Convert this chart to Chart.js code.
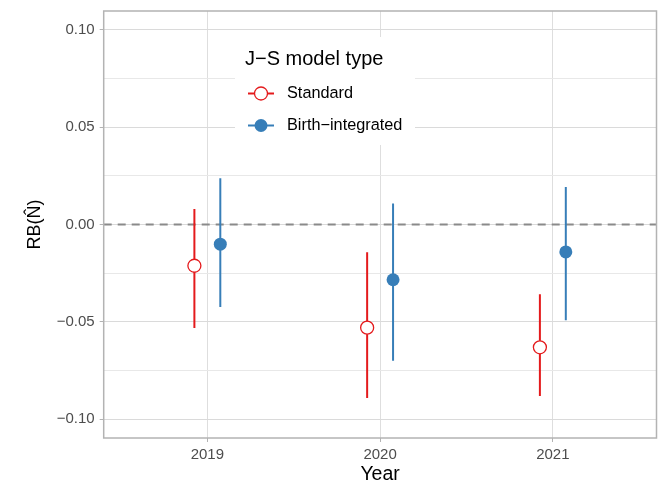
<!DOCTYPE html>
<html>
<head>
<meta charset="utf-8">
<script src="https://cdn.jsdelivr.net/npm/chart.js@4/dist/chart.umd.min.js"></script>
<style>
  html, body { margin: 0; padding: 0; background: #fff; }
  #wrap { width: 660px; height: 486px; }
</style>
</head>
<body>
<div id="wrap"><canvas id="graph1" width="660" height="486"></canvas></div>
<script>
// data
const years = [2019, 2020, 2021];
const stdEst = [-0.0212, -0.0530, -0.0631];
const stdLo = [-0.0532, -0.0891, -0.0881];
const stdHi = [0.0079, -0.0143, -0.0358];
const birthEst = [-0.0101, -0.0284, -0.0141];
const birthLo = [-0.0424, -0.0700, -0.0492];
const birthHi = [0.0237, 0.0108, 0.0193];
const seriesNames = ['Standard', 'Birth\u2212integrated'];
const legendTitle = 'J\u2212S model type';
const yTicks = [-0.1, -0.075, -0.05, -0.025, 0, 0.025, 0.05, 0.075, 0.1];
const xTicks = [2019, 2020, 2021];

const dodge = 0.075;
const xMin = 2018.4, xMax = 2021.6;
const yMin = -0.1097, yMax = 0.1097;
const red = '#E41A1C', blue = '#377EB8';
const FONT = '"Liberation Sans", Arial, sans-serif';

// build dataset points
function pts(est, off) {
  return years.map((y, i) => ({ x: y + off, y: est[i] }));
}
function bars(lo, hi, off) {
  const out = [];
  years.forEach((y, i) => {
    out.push({ x: y + off, y: lo[i] });
    out.push({ x: y + off, y: hi[i] });
    out.push({ x: y + off, y: null });
  });
  return out;
}
const isMajor = v => Math.abs(Math.round(v / 0.05) * 0.05 - v) < 1e-9;
const noPad = s => { s.paddingTop = 0; s.paddingBottom = 0; s.paddingLeft = 0; s.paddingRight = 0; };

// legend + panel border
const extras = {
  id: 'extras',
  afterDraw(chart) {
    const c = chart.ctx, a = chart.chartArea;
    c.save();
    c.strokeStyle = '#b3b3b3';
    c.lineWidth = 1.5;
    c.strokeRect(a.left, a.top, a.right - a.left, a.bottom - a.top);

    // legend box
    c.fillStyle = '#fff';
    c.fillRect(235, 37, 180, 108);
    c.fillStyle = '#000';
    c.font = '20px ' + FONT;
    c.textBaseline = 'middle';
    c.fillText(legendTitle, 245, 59);
    c.font = '16.3px ' + FONT;
    const ys = [93.5, 125.5];
    const cols = [red, blue];
    ys.forEach((yy, i) => {
      c.strokeStyle = cols[i];
      c.lineWidth = 2;
      c.beginPath(); c.moveTo(248, yy); c.lineTo(274, yy); c.stroke();
      c.beginPath(); c.arc(261, yy, 6.5, 0, Math.PI * 2);
      if (i === 0) {
        c.fillStyle = '#fff'; c.fill();
        c.lineWidth = 1.3; c.stroke();
      } else {
        c.fillStyle = blue; c.fill();
      }
      c.fillStyle = '#000';
      c.fillText(seriesNames[i], 287, yy);
    });
    c.restore();
  }
};

const ctx = document.getElementById('graph1');
new Chart(ctx, {
  type: 'scatter',
  data: {
    datasets: [
      {
        type: 'line', label: 'zero',
        data: [{ x: xMin, y: 0 }, { x: xMax, y: 0 }],
        borderColor: '#8a8a8a', borderWidth: 2, borderDash: [8, 6],
        pointRadius: 0, order: 5
      },
      {
        type: 'line', label: seriesNames[0] + ' CI',
        data: bars(stdLo, stdHi, -dodge),
        borderColor: red, borderWidth: 2, pointRadius: 0, spanGaps: false, order: 4
      },
      {
        type: 'line', label: seriesNames[1] + ' CI',
        data: bars(birthLo, birthHi, dodge),
        borderColor: blue, borderWidth: 2, pointRadius: 0, spanGaps: false, order: 3
      },
      {
        label: seriesNames[0],
        data: pts(stdEst, -dodge),
        pointRadius: 6.5, backgroundColor: '#fff', borderColor: red, borderWidth: 1.3, order: 2
      },
      {
        label: seriesNames[1],
        data: pts(birthEst, dodge),
        pointRadius: 6.5, backgroundColor: blue, borderColor: blue, borderWidth: 0, order: 1
      }
    ]
  },
  options: {
    responsive: false,
    animation: false,
    devicePixelRatio: 1,
    layout: { autoPadding: false, padding: { top: 11, right: 3.5, left: 0, bottom: 0 } },
    plugins: { legend: { display: false }, tooltip: { enabled: false } },
    scales: {
      x: {
        type: 'linear', min: xMin, max: xMax,
        afterBuildTicks: s => { s.ticks = xTicks.map(v => ({ value: v })); },
        afterFit: s => { s.height = 48; noPad(s); },
        grid: { color: '#dedede', lineWidth: 1, tickLength: 4, tickColor: '#b3b3b3' },
        border: { display: false },
        ticks: {
          padding: 3.5, color: '#4d4d4d', font: { family: FONT, size: 15 },
          callback: v => String(v)
        },
        title: {
          display: true, text: 'Year', color: '#000',
          font: { family: FONT, size: 19.5 }, padding: { top: 0, bottom: 0 }
        }
      },
      y: {
        type: 'linear', min: yMin, max: yMax,
        afterBuildTicks: s => { s.ticks = yTicks.map(v => ({ value: v })); },
        afterFit: s => { s.width = 103.7; noPad(s); },
        grid: {
          color: c => isMajor(c.tick.value) ? '#dadada' : '#e8e8e8',
          lineWidth: 1, tickLength: 4,
          tickColor: c => isMajor(c.tick.value) ? '#b3b3b3' : 'rgba(0,0,0,0)'
        },
        border: { display: false },
        ticks: {
          padding: 5, color: '#4d4d4d', font: { family: FONT, size: 15 },
          callback: v => isMajor(v) ? v.toFixed(2).replace('-', '\u2212') : ''
        },
        title: {
          display: true, text: 'RB(N\u0302)', color: '#000',
          font: { family: FONT, size: 18 }, padding: { top: 24, bottom: 0 }
        }
      }
    }
  },
  plugins: [extras]
});
</script>
</body>
</html>
